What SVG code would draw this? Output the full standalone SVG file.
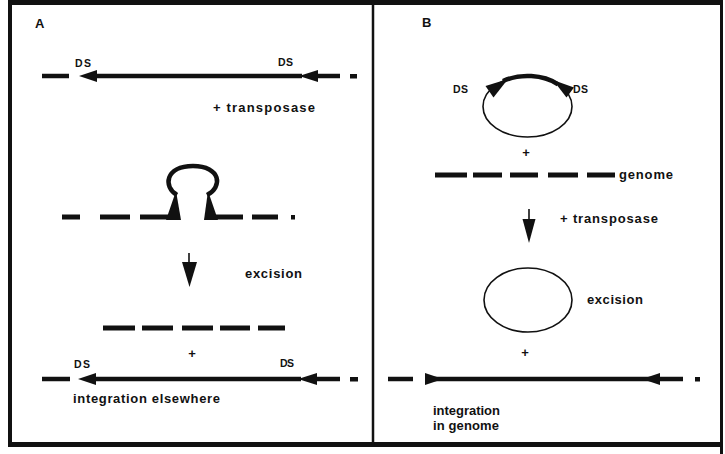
<svg xmlns="http://www.w3.org/2000/svg" width="725" height="454" viewBox="0 0 725 454">
  <style>
    .lbl { font-family: "Liberation Sans", Arial, sans-serif; font-weight: bold; font-size: 13px; fill: #111; }
    .ds { font-family: "Liberation Sans", Arial, sans-serif; font-weight: bold; font-size: 10.5px; fill: #111; }
    .dna { stroke: #111; stroke-width: 4.5; fill: none; }
    .gen { stroke: #111; stroke-width: 5; fill: none; }
    .thin { stroke: #111; stroke-width: 1.6; fill: none; }
    .head { fill: #111; stroke: none; }
    .frame { stroke: #111; fill: none; }
  </style>

  <rect width="725" height="454" fill="#fff"/>

  <!-- outer frame and panel divider -->
  <g id="frame">
    <line class="frame" x1="10" y1="0" x2="10" y2="447" stroke-width="4"/>
    <line class="frame" x1="8" y1="2.5" x2="723" y2="2.5" stroke-width="5"/>
    <line class="frame" x1="721.5" y1="0" x2="721.5" y2="454" stroke-width="3"/>
    <line class="frame" x1="8" y1="444.5" x2="723" y2="444.5" stroke-width="5"/>
    <line class="frame" x1="373" y1="2" x2="373" y2="445" stroke-width="2.5"/>
  </g>

  <!-- ===== Panel A ===== -->
  <g id="panelA-label"><text class="lbl" x="35" y="28">A</text></g>

  <!-- element inserted in the chromosome -->
  <g id="A-donor">
    <line class="dna" x1="42" y1="76" x2="69" y2="76"/>
    <line class="dna" x1="94" y1="76" x2="302" y2="76"/>
    <line class="dna" x1="315" y1="76" x2="340" y2="76"/>
    <rect class="head" x="350" y="74" width="7" height="4.5"/>
    <polygon class="head" points="79,76 97,70 97,82"/>
    <polygon class="head" points="299,76 318,70 318,82"/>
    <text class="ds" x="75" y="67" textLength="16">DS</text>
    <text class="ds" x="278" y="66" textLength="15">DS</text>
  </g>
  <g id="A-transposase"><text class="lbl" x="213" y="111.5" textLength="102" lengthAdjust="spacing">+ transposase</text></g>

  <!-- looped-out element -->
  <g id="A-loop">
    <line class="gen" x1="62" y1="217" x2="80" y2="217"/>
    <line class="gen" x1="100" y1="217" x2="130" y2="217"/>
    <line class="gen" x1="140" y1="217" x2="170" y2="217"/>
    <line class="gen" x1="214" y1="217" x2="243" y2="217"/>
    <line class="gen" x1="252" y1="217" x2="278" y2="217"/>
    <rect class="head" x="291" y="215" width="4" height="4.5"/>
    <polygon class="head" points="166,220 181,220 176,191"/>
    <polygon class="head" points="204,220 218,220 208,191"/>
    <path class="dna" stroke-width="4" d="M177,195 C163,187 165,166 193,166 C221,166 223,187 207,195"/>
  </g>

  <g id="A-excision">
    <line class="thin" x1="189" y1="253" x2="189" y2="265" stroke-width="2"/>
    <polygon class="head" points="182,262 197,262 189.5,287"/>
    <text class="lbl" x="245" y="278" textLength="57" lengthAdjust="spacing">excision</text>
  </g>

  <!-- repaired chromosome -->
  <g id="A-gap">
    <line class="gen" x1="103" y1="328" x2="135" y2="328"/>
    <line class="gen" x1="142" y1="328" x2="173" y2="328"/>
    <line class="gen" x1="182" y1="328" x2="213" y2="328"/>
    <line class="gen" x1="220" y1="328" x2="250" y2="328"/>
    <line class="gen" x1="258" y1="328" x2="285" y2="328"/>
    <text class="lbl" x="192" y="358" text-anchor="middle">+</text>
  </g>

  <!-- element at its new site -->
  <g id="A-target">
    <line class="dna" x1="42" y1="379" x2="70" y2="379"/>
    <line class="dna" x1="94" y1="379" x2="301" y2="379"/>
    <line class="dna" x1="315" y1="379" x2="340" y2="379"/>
    <rect class="head" x="350" y="377" width="8" height="4.5"/>
    <polygon class="head" points="78,379 96,373 96,385"/>
    <polygon class="head" points="298,379 317,373 317,385"/>
    <text class="ds" x="74" y="368" textLength="16">DS</text>
    <text class="ds" x="280" y="367" textLength="14">DS</text>
    <text class="lbl" x="73" y="403" textLength="147" lengthAdjust="spacing">integration elsewhere</text>
  </g>

  <!-- ===== Panel B ===== -->
  <g id="panelB-label"><text class="lbl" x="422" y="27">B</text></g>

  <!-- circular element -->
  <g id="B-circle">
    <ellipse class="thin" cx="527.5" cy="106.5" rx="44.5" ry="30.5"/>
    <path class="dna" stroke-width="4.5" d="M503,81 A44.5,30.5 0 0 1 558,84.3"/>
    <polygon class="head" points="485.5,86 493.5,97.5 508,79"/>
    <polygon class="head" points="574,87.5 566.5,97.5 553,80"/>
    <text class="ds" x="453" y="93" textLength="15">DS</text>
    <text class="ds" x="573" y="93" textLength="15">DS</text>
    <text class="lbl" x="526" y="157" text-anchor="middle">+</text>
  </g>

  <g id="B-genome">
    <line class="gen" stroke-width="5.5" x1="435" y1="175" x2="467" y2="175"/>
    <line class="gen" stroke-width="5.5" x1="473" y1="175" x2="502" y2="175"/>
    <line class="gen" stroke-width="5.5" x1="510" y1="175" x2="538" y2="175"/>
    <line class="gen" stroke-width="5.5" x1="548" y1="175" x2="578" y2="175"/>
    <line class="gen" stroke-width="5.5" x1="587" y1="175" x2="615" y2="175"/>
    <text class="lbl" x="619" y="179" textLength="54" lengthAdjust="spacing">genome</text>
  </g>

  <g id="B-transposase">
    <line class="thin" x1="529" y1="209" x2="529" y2="222" stroke-width="2"/>
    <polygon class="head" points="522.5,219 535.5,219 529,243"/>
    <text class="lbl" x="560" y="223" textLength="98" lengthAdjust="spacing">+ transposase</text>
  </g>

  <g id="B-excised">
    <ellipse class="thin" cx="528" cy="300" rx="44" ry="32"/>
    <text class="lbl" x="587" y="304" textLength="56" lengthAdjust="spacing">excision</text>
    <text class="lbl" x="525" y="357" text-anchor="middle">+</text>
  </g>

  <!-- element integrated into the genome -->
  <g id="B-integrated">
    <line class="dna" x1="388" y1="379" x2="413" y2="379"/>
    <line class="dna" x1="425" y1="379" x2="660" y2="379"/>
    <line class="dna" x1="658" y1="379" x2="683" y2="379"/>
    <rect class="head" x="695" y="377" width="5" height="4.5"/>
    <polygon class="head" points="425,373 425,385 443,379"/>
    <polygon class="head" points="660,373 660,385 642,379"/>
    <text class="lbl" x="433" y="415" textLength="67" lengthAdjust="spacing">integration</text>
    <text class="lbl" x="433" y="430" textLength="66" lengthAdjust="spacing">in genome</text>
  </g>
</svg>
